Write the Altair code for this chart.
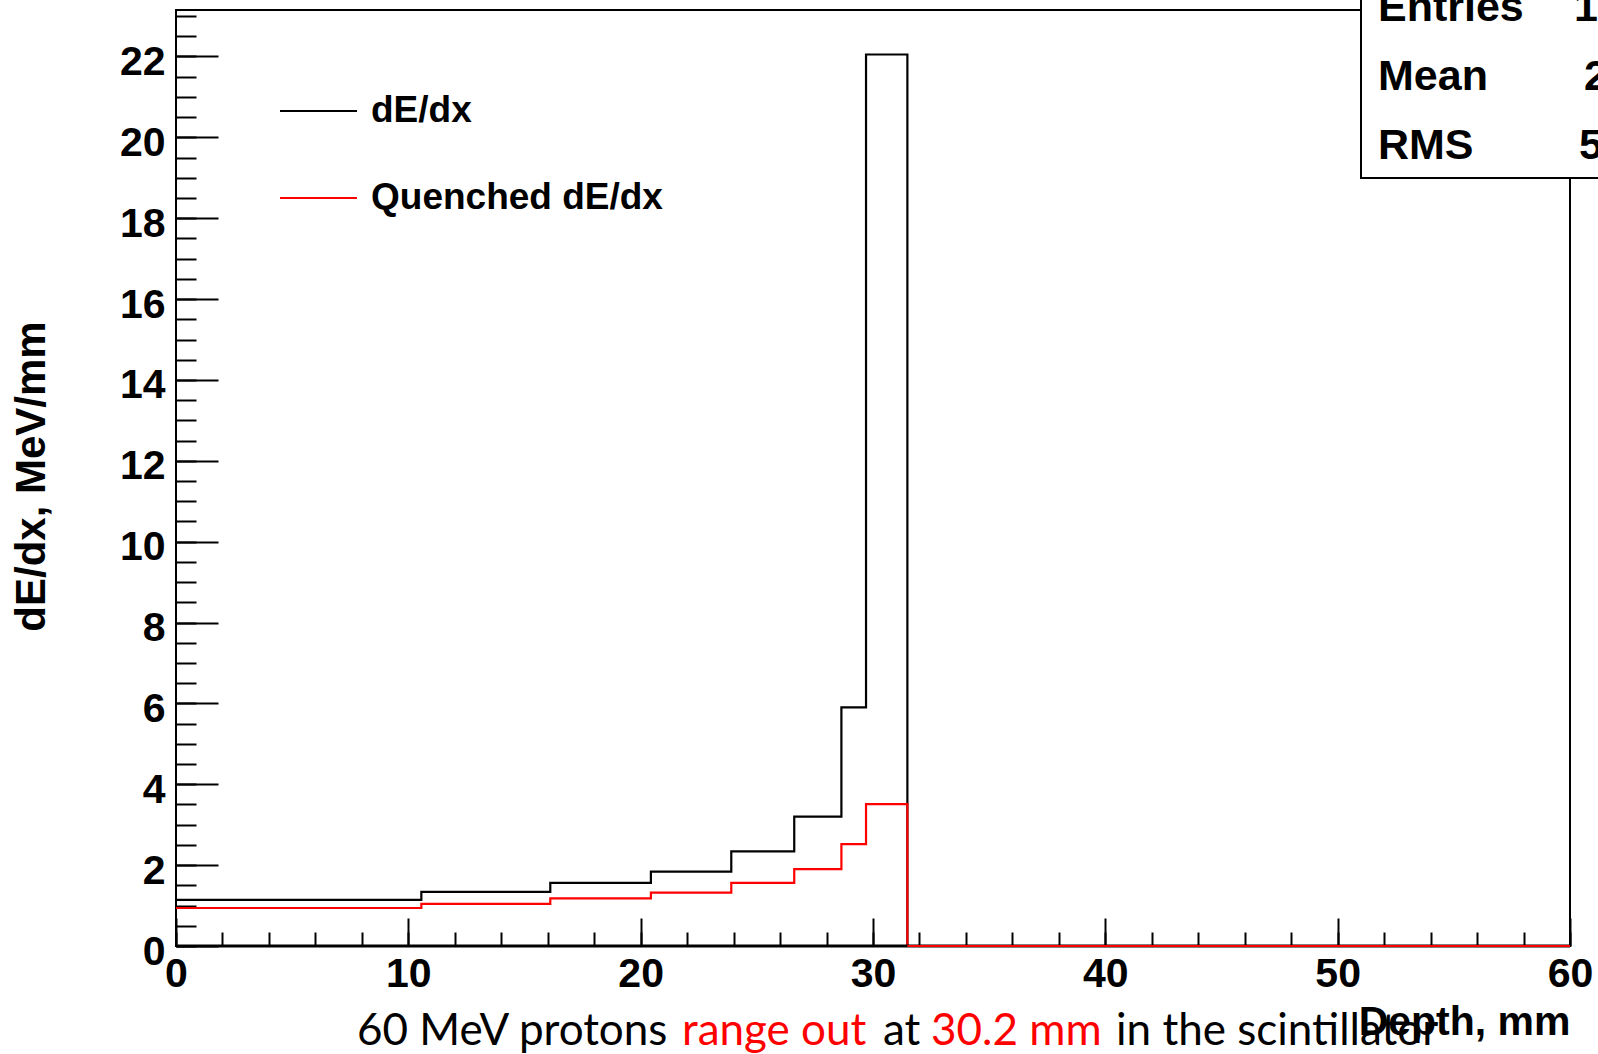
import altair as alt
import pandas as pd

# ---- data ----
edges = [0.0, 10.56, 16.11, 20.44, 23.90, 26.61, 28.64, 29.70, 31.48, 60.0]
dedx = [1.14, 1.34, 1.56, 1.84, 2.34, 3.20, 5.90, 22.05, 0.0]
quenched = [0.94, 1.04, 1.18, 1.32, 1.56, 1.90, 2.52, 3.51, 0.0]
series_names = ["dE/dx", "Quenched dE/dx"]
series_colors = ["#000000", "#ff0000"]
x_major = [0, 10, 20, 30, 40, 50, 60]
x_minor = [0, 2, 4, 6, 8, 10, 12, 14, 16, 18, 20, 22, 24, 26, 28, 30, 32, 34, 36, 38, 40,
           42, 44, 46, 48, 50, 52, 54, 56, 58, 60]
y_major = [0, 2, 4, 6, 8, 10, 12, 14, 16, 18, 20, 22]
y_minor = [0, 0.5, 1, 1.5, 2, 2.5, 3, 3.5, 4, 4.5, 5, 5.5, 6, 6.5, 7, 7.5, 8, 8.5, 9, 9.5,
           10, 10.5, 11, 11.5, 12, 12.5, 13, 13.5, 14, 14.5, 15, 15.5, 16, 16.5, 17, 17.5,
           18, 18.5, 19, 19.5, 20, 20.5, 21, 21.5, 22, 22.5, 23]
stats_labels = ["Entries", "Mean", "RMS"]
stats_values = ["1700", "26.41", "5.618"]
note_parts = ["60 MeV protons", "range out", "at", "30.2 mm", "in the scintillator"]
note_colors = ["#000000", "#ff0000", "#000000", "#ff0000", "#000000"]

# ---- layout ----
W, H = 1394, 936
PAD = {"left": 176, "top": 10, "right": 28, "bottom": 108}
BOLD = "Liberation Sans"

rows = []
for name, vals in zip(series_names, [dedx, quenched]):
    for i, e in enumerate(edges):
        v = vals[i] if i < len(vals) else vals[-1]
        rows.append({"depth": e, "value": v, "series": name})
df = pd.DataFrame(rows)

color = alt.Color("series:N", scale=alt.Scale(domain=series_names, range=series_colors), legend=None)
xscale = alt.Scale(domain=[0, 60], nice=False, zero=False)
yscale = alt.Scale(domain=[0, 23.15], nice=False, zero=False)

x_major_axis = alt.Axis(values=x_major, orient="bottom", offset=-28, tickSize=28, tickWidth=2,
                        tickColor="black", domain=False, grid=False, labelFont=BOLD,
                        labelFontWeight="bold", labelFontSize=41, labelColor="black",
                        labelPadding=8, labelFlush=False, labelOverlap=False, labelBound=False,
                        labelBaseline="top", format="d",
                        title="Depth, mm", titleFont=BOLD, titleFontWeight="bold", titleFontSize=41,
                        titleColor="black", titleAlign="right", titleAnchor="end", titleX=W,
                        titleY=116, titleBaseline="alphabetic")
y_major_axis = alt.Axis(values=y_major, orient="left", offset=-42, tickSize=42, tickWidth=2,
                        tickColor="black", domain=False, grid=False, labelFont=BOLD,
                        labelFontWeight="bold", labelFontSize=41, labelColor="black",
                        labelPadding=11, labelOffset=6, labelFlush=False, labelOverlap=False,
                        labelBound=False, labelBaseline="middle", labelAlign="right", format="d",
                        title="dE/dx, MeV/mm", titleFont=BOLD, titleFontWeight="bold",
                        titleFontSize=42, titleColor="black", titleAngle=270, titleAlign="center",
                        titleBaseline="middle", titleX=-187, titleY=466)
x_minor_axis = alt.Axis(values=x_minor, orient="bottom", offset=-14, tickSize=14, tickWidth=2,
                        tickColor="black", domain=False, grid=False, labels=False, title=None)
y_minor_axis = alt.Axis(values=y_minor, orient="left", offset=-20, tickSize=20, tickWidth=2,
                        tickColor="black", domain=False, grid=False, labels=False, title=None)

black = alt.Chart(df[df.series == series_names[0]]).mark_line(
    interpolate="step-after", strokeWidth=2.2, clip=False
).encode(
    x=alt.X("depth:Q", scale=xscale, axis=x_major_axis),
    y=alt.Y("value:Q", scale=yscale, axis=y_major_axis),
    color=color,
)
red = alt.Chart(df[df.series == series_names[1]]).mark_line(
    interpolate="step-after", strokeWidth=2.2, clip=False
).encode(
    x=alt.X("depth:Q", scale=xscale, axis=x_minor_axis),
    y=alt.Y("value:Q", scale=yscale, axis=y_minor_axis),
    color=color,
)

layers = [black, red]

# legend (drawn by hand, ROOT style)
leg_df = pd.DataFrame({"series": series_names})
for i, name in enumerate(series_names):
    d = leg_df[leg_df.series == name]
    yy = 101 + 87 * i
    layers.append(alt.Chart(d).mark_rule(strokeWidth=2).encode(
        x=alt.value(104), x2=alt.value(181), y=alt.value(yy), color=color))
    layers.append(alt.Chart(d).mark_text(
        font=BOLD, fontWeight="bold", fontSize=37, align="left", baseline="middle", color="black"
    ).encode(x=alt.value(195), y=alt.value(yy), text="series:N"))

# stats box
st_df = pd.DataFrame({"label": stats_labels, "val": stats_values})
layers.append(alt.Chart(st_df.head(1)).mark_rect(
    fill="white", stroke="black", strokeWidth=2).encode(
    x=alt.value(1185), x2=alt.value(1600), y=alt.value(-80), y2=alt.value(168)))
val_x = [1398, 1408, 1403]
for i in range(len(stats_labels)):
    d = st_df.iloc[[i]]
    yy = -2 + 69 * i
    layers.append(alt.Chart(d).mark_text(
        font=BOLD, fontWeight="bold", fontSize=43, align="left", baseline="middle", color="black"
    ).encode(x=alt.value(1202), y=alt.value(yy), text="label:N"))
    layers.append(alt.Chart(d).mark_text(
        font=BOLD, fontWeight="bold", fontSize=43, align="left", baseline="middle", color="black"
    ).encode(x=alt.value(val_x[i]), y=alt.value(yy), text="val:N"))

# bottom annotation in mixed colours
note_df = pd.DataFrame({"part": note_parts, "col": note_colors})
note_x = [181, 506, 707, 755, 940]
for i in range(len(note_parts)):
    d = note_df.iloc[[i]]
    layers.append(alt.Chart(d).mark_text(
        font="Lato", fontSize=44, align="left", baseline="alphabetic", color=note_colors[i]
    ).encode(x=alt.value(note_x[i]), y=alt.value(1035), text="part:N"))

# thicker bottom axis line (ROOT frame)
layers.append(alt.Chart(leg_df.head(1)).mark_rule(strokeWidth=3, color="black").encode(
    x=alt.value(0), x2=alt.value(W), y=alt.value(H)))
layers.append(alt.Chart(df[df.series == series_names[1]]).mark_line(
    interpolate="step-after", strokeWidth=2.2, clip=False
).transform_filter(alt.datum.depth >= 31).encode(
    x=alt.X("depth:Q", scale=xscale, axis=None),
    y=alt.Y("value:Q", scale=yscale, axis=None),
    color=color,
))

chart = alt.layer(*layers).resolve_axis(x="independent", y="independent").properties(
    width=W, height=H, padding=PAD, autosize=alt.AutoSizeParams(type="none"),
    background="white",
).configure_view(stroke="black", strokeWidth=2)

chart.save("out.html", embed_options={"renderer": "svg", "actions": False})
